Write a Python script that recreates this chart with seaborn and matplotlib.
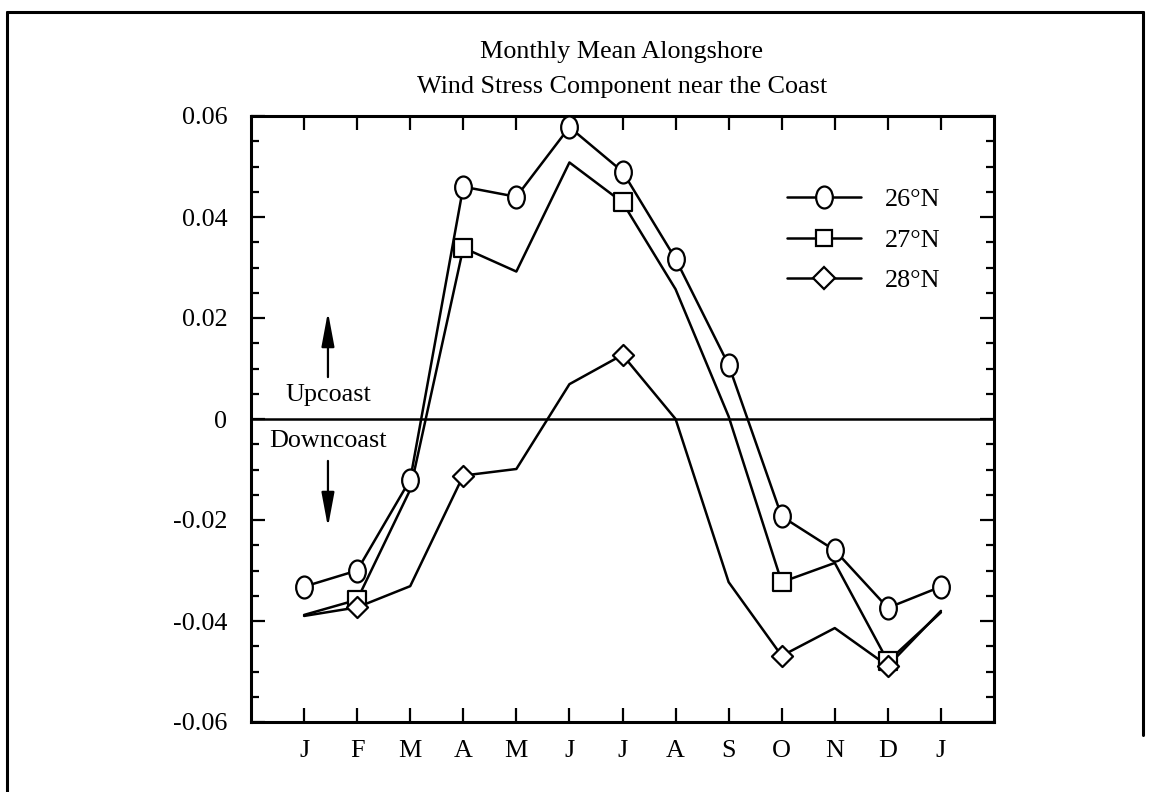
import numpy as np
import pandas as pd
import matplotlib
matplotlib.use("Agg")
import matplotlib.pyplot as plt
from matplotlib.path import Path
from matplotlib.transforms import Affine2D
from matplotlib.lines import Line2D
import seaborn as sns

# Monthly mean alongshore wind stress (Jan .. Dec, then Jan again)
months = ["J", "F", "M", "A", "M", "J", "J", "A", "S", "O", "N", "D", "J"]
stress_26N = [-0.0332, -0.0300, -0.0120, 0.0460, 0.0440, 0.0578, 0.0490,
              0.0317, 0.0107, -0.0193, -0.0260, -0.0374, -0.0332]
stress_27N = [-0.0388, -0.0358, -0.0140, 0.0339, 0.0292, 0.0508, 0.0429,
              0.0257, 0.0005, -0.0323, -0.0285, -0.0480, -0.0383]
stress_28N = [-0.0390, -0.0373, -0.0331, -0.0112, -0.0099, 0.0069, 0.0127,
              0.0000, -0.0323, -0.0469, -0.0414, -0.0489, -0.0380]
series_names = ["26°N", "27°N", "28°N"]
# months carrying a symbol for the 27N and 28N curves
marked_months = [1, 3, 6, 9, 11]

sns.set_theme(style="white")
plt.rcParams["font.family"] = ["Liberation Serif", "DejaVu Serif"]
plt.rcParams["text.color"] = "black"
plt.rcParams["xtick.color"] = "black"
plt.rcParams["ytick.color"] = "black"
plt.rcParams["axes.labelcolor"] = "black"

FS = 18.8
LW = 1.8

# slightly tall ellipse for the 26N symbol
ellipse = Path.unit_circle().transformed(Affine2D().scale(0.76, 1.0))

fig = plt.figure(figsize=(11.49, 7.92), dpi=100)
W, H = 1149, 792
ax = fig.add_axes([251 / W, 1 - 722 / H, (994 - 251) / W, (722 - 116) / H])

x = np.arange(len(months))
frames = []
for name, vals in zip(series_names, [stress_26N, stress_27N, stress_28N]):
    frames.append(pd.DataFrame({"month": x, "stress": vals, "lat": name}))
df = pd.concat(frames, ignore_index=True)

for name in series_names:
    sub = df[df["lat"] == name]
    sns.lineplot(data=sub, x="month", y="stress", color="black", lw=LW,
                 ax=ax, legend=False, zorder=2)

marker_spec = {
    "26°N": (ellipse, 250, list(range(len(months)))),
    "27°N": ("s", 150, marked_months),
    "28°N": ("D", 115, marked_months),
}
for name in series_names:
    mk, size, idx = marker_spec[name]
    sub = df[(df["lat"] == name) & (df["month"].isin(idx))]
    sns.scatterplot(data=sub, x="month", y="stress", marker=mk, s=size,
                    facecolor="white", edgecolor="black", linewidth=1.6,
                    ax=ax, legend=False, zorder=3)

ax.axhline(0, color="black", lw=LW, zorder=1)

ax.set_xlim(-1, 13)
ax.set_ylim(-0.06, 0.06)
ax.set_xticks(x)
ax.set_xticklabels(months)
ax.set_yticks([-0.06, -0.04, -0.02, 0, 0.02, 0.04, 0.06])
ax.set_yticklabels(["-0.06", "-0.04", "-0.02", "0", "0.02", "0.04", "0.06"])
ax.set_yticks(np.arange(-0.06, 0.0601, 0.005), minor=True)
ax.set_xlabel("")
ax.set_ylabel("")

for s in ax.spines.values():
    s.set_visible(True)
    s.set_color("black")
    s.set_linewidth(2.2)

ax.tick_params(axis="both", which="major", direction="in", length=10,
               width=1.6, color="black", labelcolor="black", labelsize=FS,
               top=True, right=True, bottom=True, left=True)
ax.tick_params(axis="x", which="major", pad=13)
ax.tick_params(axis="y", which="major", pad=17)
ax.tick_params(axis="y", which="minor", direction="in", length=5.5,
               width=1.6, color="black", left=True, right=True)
ax.tick_params(axis="x", which="minor", bottom=False, top=False)
ax.grid(False)

# direction annotations
ax.text(0.45, 0.0047, "Upcoast", ha="center", va="center", fontsize=FS)
ax.text(0.45, -0.0043, "Downcoast", ha="center", va="center", fontsize=FS)
arrow = dict(arrowstyle="-|>,head_length=1.5,head_width=0.28", color="black",
             lw=1.6, mutation_scale=14, shrinkA=0, shrinkB=0)
ax.annotate("", xy=(0.45, 0.0212), xytext=(0.45, 0.0083), arrowprops=arrow)
ax.annotate("", xy=(0.45, -0.0214), xytext=(0.45, -0.0083), arrowprops=arrow)

# legend
handles = [
    Line2D([], [], color="black", lw=LW, marker=ellipse, markersize=15.8,
           markerfacecolor="white", markeredgecolor="black", markeredgewidth=1.6),
    Line2D([], [], color="black", lw=LW, marker="s", markersize=12.2,
           markerfacecolor="white", markeredgecolor="black", markeredgewidth=1.6),
    Line2D([], [], color="black", lw=LW, marker="D", markersize=10.7,
           markerfacecolor="white", markeredgecolor="black", markeredgewidth=1.6),
]
leg = ax.legend(handles, series_names, loc="upper left", frameon=False,
                fontsize=FS, handlelength=2.85, handletextpad=0.9,
                labelspacing=0.66, borderaxespad=0, borderpad=0,
                bbox_to_anchor=(787 / W, 1 - 188 / H),
                bbox_transform=fig.transFigure)

# title
fig.text(622 / W, 1 - 58 / H, "Monthly Mean Alongshore", ha="center",
         va="baseline", fontsize=FS)
fig.text(622 / W, 1 - 93 / H, "Wind Stress Component near the Coast",
         ha="center", va="baseline", fontsize=FS)

# outer frame (left, top and right edges)
top_y = 1 - 12 / H
for (xs, ys) in [([7 / W, 7 / W], [0, top_y]),
                 ([7 / W, 1143 / W], [top_y, top_y]),
                 ([1143 / W, 1143 / W], [top_y, 1 - 735 / H])]:
    fig.add_artist(Line2D(xs, ys, color="black", lw=2.2,
                          transform=fig.transFigure))

fig.savefig("out.png", dpi=100, facecolor="white")
